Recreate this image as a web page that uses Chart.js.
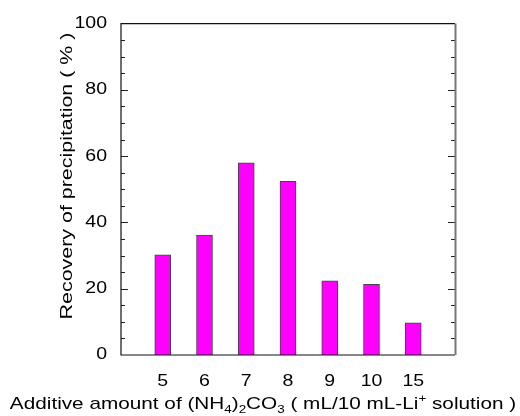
<!DOCTYPE html>
<html>
<head>
<meta charset="utf-8">
<script src="https://cdn.jsdelivr.net/npm/chart.js@4/dist/chart.umd.min.js"></script>
<style>
  html, body { margin: 0; padding: 0; background: #fff; }
  #wrap { width: 520px; height: 416px; position: relative; }
</style>
</head>
<body>
<div id="wrap"><canvas id="c" width="520" height="416"></canvas></div>
<script>
// ---- data ----
const categories = ['5', '6', '7', '8', '9', '10', '15'];
const recovery = [30.2, 36.2, 58.0, 52.4, 22.4, 21.3, 9.7];
const yTicks = [0, 20, 40, 60, 80, 100];
const yTitle = 'Recovery of precipitation ( % )';
const xTitleParts = [
  ['Additive amount of (NH', 'n'], ['4', 'sub'], [')', 'n'], ['2', 'sub'],
  ['CO', 'n'], ['3', 'sub'], [' ( mL/10 mL-Li', 'n'], ['+', 'sup'], [' solution )', 'n']
];

const labels = [''].concat(categories, ['']);
const values = [null].concat(recovery, [null]);

const FONT = 'Liberation Sans, Arial, Helvetica, sans-serif';
const TICK_SX = 1.22;   // the reference type is set wide
const origFill = CanvasRenderingContext2D.prototype.fillText;
let stretchOn = false;
CanvasRenderingContext2D.prototype.fillText = function (t, x, y) {
  if (!stretchOn) return origFill.call(this, t, x, y);
  this.save();
  this.translate(x, y);
  this.scale(TICK_SX, 1);
  origFill.call(this, t, 0, 0);
  this.restore();
};

function wideFill(ctx, text, x, y, sx) {
  ctx.save();
  ctx.translate(x, y);
  ctx.scale(sx, 1);
  origFill.call(ctx, text, 0, 0);
  ctx.restore();
}

const stretchPlugin = {
  id: 'stretch',
  beforeDraw() { stretchOn = true; },
  afterDatasetsDraw() { stretchOn = false; }
};

const framePlugin = {
  id: 'frame',
  afterDatasetsDraw(chart) {
    const ctx = chart.ctx;
    const a = chart.chartArea;
    const y = chart.scales.y;
    ctx.save();
    ctx.strokeStyle = '#222';
    ctx.lineWidth = 1;
    for (let v = y.min; v <= y.max; v += 5) {
      if (v === y.min || v === y.max) continue;
      const py = Math.round(y.getPixelForValue(v)) + 0.5;
      const len = (v % 20 === 0) ? 7 : 4;
      ctx.beginPath();
      ctx.moveTo(a.left, py); ctx.lineTo(a.left + len, py);
      ctx.moveTo(a.right, py); ctx.lineTo(a.right - len, py);
      ctx.stroke();
    }
    ctx.strokeStyle = '#111';
    ctx.lineWidth = 1.2;
    ctx.beginPath();
    ctx.moveTo(a.right, a.top); ctx.lineTo(a.left, a.top);
    ctx.lineTo(a.left, a.bottom); ctx.lineTo(a.right, a.bottom);
    ctx.stroke();
    ctx.strokeStyle = '#777';
    ctx.lineWidth = 2;
    ctx.beginPath();
    ctx.moveTo(a.right + 0.5, a.top); ctx.lineTo(a.right + 0.5, a.bottom);
    ctx.stroke();
    ctx.restore();
  },
  afterDraw(chart) {
    const ctx = chart.ctx;
    ctx.save();
    ctx.fillStyle = '#000';
    // y title (rotated, wide type)
    ctx.font = '17px ' + FONT;
    ctx.textAlign = 'center';
    ctx.textBaseline = 'middle';
    ctx.translate(67, 176);
    ctx.rotate(-Math.PI / 2);
    ctx.scale(1.26, 1);
    origFill.call(ctx, yTitle, 0, 0);
    ctx.setTransform(1, 0, 0, 1, 0, 0);
    // x title with sub/superscripts
    const SX = 1.22;
    const big = '17px ' + FONT, small = '11px ' + FONT;
    let total = 0;
    const widths = xTitleParts.map(([t, k]) => {
      ctx.font = k === 'n' ? big : small;
      const w = ctx.measureText(t).width * SX;
      total += w;
      return w;
    });
    let x = 263 - total / 2;
    const base = 409;
    ctx.textAlign = 'left';
    ctx.textBaseline = 'alphabetic';
    xTitleParts.forEach(([t, k], i) => {
      ctx.font = k === 'n' ? big : small;
      const dy = k === 'sub' ? 4 : (k === 'sup' ? -7 : 0);
      wideFill(ctx, t, x, base + dy, SX);
      x += widths[i];
    });
    ctx.restore();
  }
};

new Chart(document.getElementById('c'), {
  type: 'bar',
  data: {
    labels: labels,
    datasets: [{
      data: values,
      backgroundColor: '#ff00ff',
      borderColor: '#444',
      borderWidth: 1,
      barThickness: 16
    }]
  },
  options: {
    responsive: false,
    animation: false,
    devicePixelRatio: 1,
    layout: { padding: { top: 22, right: 65, left: 0, bottom: 0 } },
    plugins: { legend: { display: false }, tooltip: { enabled: false } },
    scales: {
      x: {
        type: 'category',
        offset: false,
        grid: { display: false, drawTicks: false },
        border: { display: false },
        ticks: {
          color: '#000', font: { family: FONT, size: 16 }, padding: 17,
          maxRotation: 0, autoSkip: false
        },
        afterFit(s) { s.height = 61; }
      },
      y: {
        min: 0, max: 100,
        grid: { display: false, drawTicks: false },
        border: { display: false },
        afterBuildTicks(s) { s.ticks = yTicks.map(v => ({ value: v })); },
        ticks: { color: '#000', font: { family: FONT, size: 16 }, padding: 14 },
        afterFit(s) { s.width = 121; }
      }
    }
  },
  plugins: [stretchPlugin, framePlugin]
});
</script>
</body>
</html>
